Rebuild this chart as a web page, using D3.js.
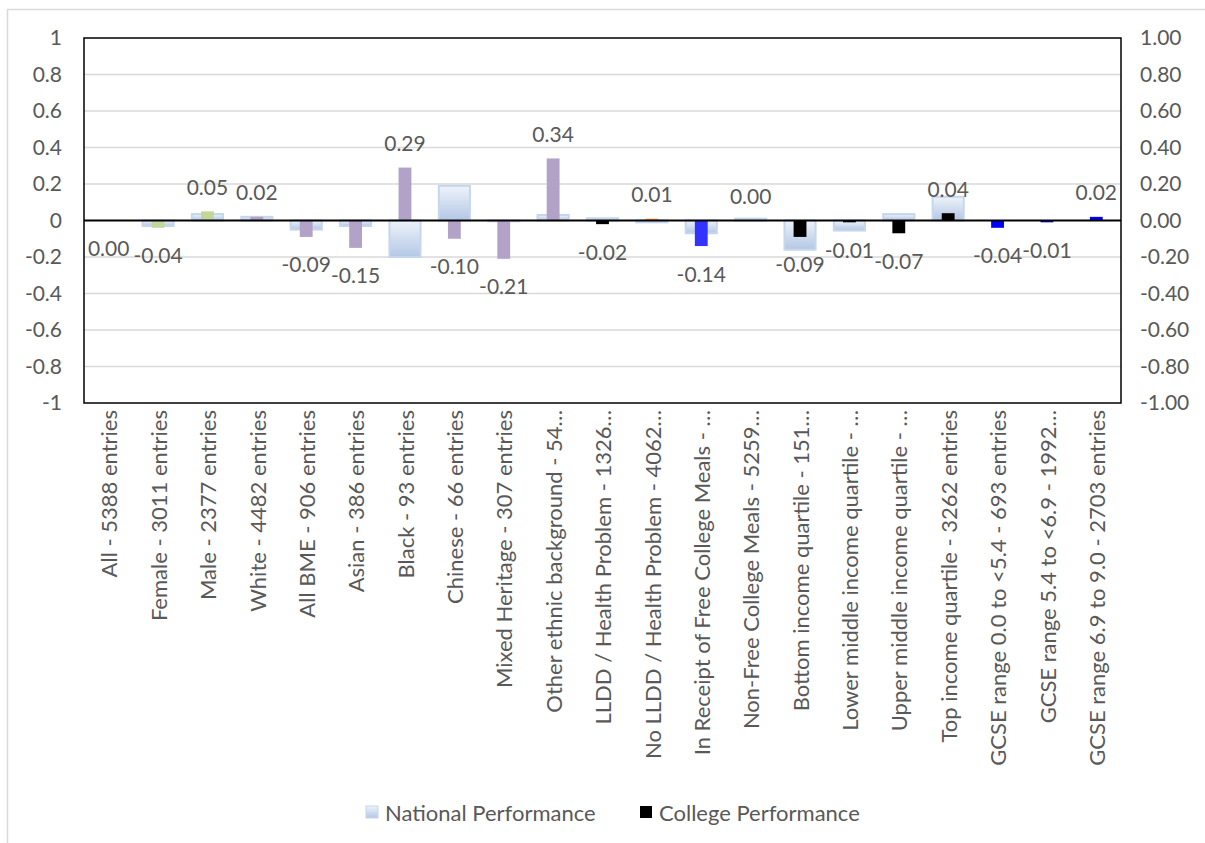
<!DOCTYPE html>
<html>
<head>
<meta charset="utf-8">
<script src="https://cdn.jsdelivr.net/npm/d3@7/dist/d3.min.js"></script>
<style>
  html, body { margin: 0; padding: 0; background: #fff; }
  svg { display: block; }
  text { font-family: Lato, "Open Sans", sans-serif; fill: #595959; }
</style>
</head>
<body>
<svg id="chart" width="1205" height="843"></svg>
<script>
// ---------- DATA ----------
const categories = [
  "All - 5388 entries",
  "Female - 3011 entries",
  "Male - 2377 entries",
  "White - 4482 entries",
  "All BME - 906 entries",
  "Asian - 386 entries",
  "Black - 93 entries",
  "Chinese - 66 entries",
  "Mixed Heritage - 307 entries",
  "Other ethnic background - 54…",
  "LLDD / Health Problem - 1326…",
  "No LLDD / Health Problem - 4062…",
  "In Receipt of Free College Meals - …",
  "Non-Free College Meals - 5259…",
  "Bottom income quartile - 151…",
  "Lower middle income quartile - …",
  "Upper middle income quartile - …",
  "Top income quartile - 3262 entries",
  "GCSE range 0.0 to <5.4 - 693 entries",
  "GCSE range 5.4 to <6.9 - 1992…",
  "GCSE range 6.9 to 9.0 - 2703 entries"
];
const nationalPerformance = [
  0.00, -0.03, 0.035, 0.02, -0.05, -0.03, -0.20, 0.19, -0.004, 0.03,
  0.012, -0.01, -0.07, 0.01, -0.16, -0.055, 0.035, 0.13, 0.00, 0.00, 0.00
];
const collegePerformance = [
  -0.001, -0.04, 0.05, 0.02, -0.09, -0.15, 0.29, -0.10, -0.21, 0.34,
  -0.02, 0.01, -0.14, 0.001, -0.09, -0.01, -0.07, 0.04, -0.04, -0.01, 0.02
];
const leftTicks = [-1, -0.8, -0.6, -0.4, -0.2, 0, 0.2, 0.4, 0.6, 0.8, 1];
const rightTicks = [-1, -0.8, -0.6, -0.4, -0.2, 0, 0.2, 0.4, 0.6, 0.8, 1];
const seriesNames = ["National Performance", "College Performance"];

// ---------- STYLE ----------
const collegeColors = [
  "#c3d69b", "#c3d69b", "#c3d69b",
  "#b3a2c7", "#b3a2c7", "#b3a2c7", "#b3a2c7", "#b3a2c7", "#b3a2c7", "#b3a2c7",
  "#000000", "#f79646", "#3333ff", "#3333ff",
  "#000000", "#000000", "#000000", "#000000",
  "#0000ff", "#0000ff", "#0000ff"
];

const svg = d3.select("#chart");
const W = 1205, H = 843;
const plot = { left: 84, right: 1121, top: 38, bottom: 403 };

// outer chart border
svg.append("rect")
  .attr("x", 7.5).attr("y", 9.5).attr("width", W + 10).attr("height", H + 10)
  .attr("fill", "none").attr("stroke", "#d9d9d9").attr("stroke-width", 1.5);

const defs = svg.append("defs");
const grad = defs.append("linearGradient").attr("id", "natGrad")
  .attr("x1", 0).attr("y1", 0).attr("x2", 0).attr("y2", 1);
grad.append("stop").attr("offset", "0%").attr("stop-color", "#eef3fa");
grad.append("stop").attr("offset", "100%").attr("stop-color", "#b3c7e5");

const x = d3.scaleBand().domain(categories).range([plot.left, plot.right]).paddingInner(0).paddingOuter(0);
const y = d3.scaleLinear().domain([-1, 1]).range([plot.bottom, plot.top]);
const y2 = d3.scaleLinear().domain([-1, 1]).range([plot.bottom, plot.top]);

// gridlines
svg.append("g").selectAll("line").data(leftTicks.filter(t => t !== 0 && t !== 1 && t !== -1))
  .join("line")
  .attr("x1", plot.left).attr("x2", plot.right)
  .attr("y1", d => y(d)).attr("y2", d => y(d))
  .attr("stroke", "#d9d9d9").attr("stroke-width", 1.5);

// national bars (primary)
const natW = x.bandwidth() * 0.63;
svg.append("g").selectAll("rect").data(nationalPerformance)
  .join("rect")
  .attr("x", (d, i) => x(categories[i]) + (x.bandwidth() - natW) / 2)
  .attr("y", d => y(Math.max(0, d)))
  .attr("width", natW)
  .attr("height", d => Math.abs(y(d) - y(0)))
  .attr("fill", "url(#natGrad)")
  .attr("stroke", "#c6d6ec").attr("stroke-width", 2);

// college bars (secondary)
const colW = x.bandwidth() * 0.26;
svg.append("g").selectAll("rect").data(collegePerformance)
  .join("rect")
  .attr("x", (d, i) => x(categories[i]) + (x.bandwidth() - colW) / 2)
  .attr("y", d => y2(Math.max(0, d)))
  .attr("width", colW)
  .attr("height", d => Math.abs(y2(d) - y2(0)))
  .attr("fill", (d, i) => collegeColors[i]);

// zero line
svg.append("line")
  .attr("x1", plot.left).attr("x2", plot.right)
  .attr("y1", y(0)).attr("y2", y(0))
  .attr("stroke", "#000").attr("stroke-width", 2);

// plot border
svg.append("rect")
  .attr("x", plot.left).attr("y", plot.top)
  .attr("width", plot.right - plot.left).attr("height", plot.bottom - plot.top)
  .attr("fill", "none").attr("stroke", "#000").attr("stroke-width", 1.5);

// data labels
const fmt = v => (Math.abs(v) < 0.005 ? "0.00" : v.toFixed(2));
svg.append("g").selectAll("text").data(collegePerformance)
  .join("text")
  .attr("x", (d, i) => x(categories[i]) + x.bandwidth() / 2)
  .attr("y", d => d >= 0 ? y2(d) - 25 : y2(d) + 27)
  .attr("text-anchor", "middle")
  .attr("dominant-baseline", "central")
  .style("font-size", "21px")
  .text(d => fmt(d));

// left axis
const leftAxis = d3.axisLeft(y).tickValues(leftTicks).tickSize(0).tickPadding(22)
  .tickFormat(d => d3.format("")(+d.toFixed(1)).replace("−", "-"));
const gl = svg.append("g").attr("transform", `translate(${plot.left},0)`).call(leftAxis);
gl.select(".domain").remove();
gl.selectAll("text").style("font-size", "21px").attr("fill", "#595959")
  .style("font-family", "Lato, 'Open Sans', sans-serif");

// right axis
const rightAxis = d3.axisRight(y2).tickValues(rightTicks).tickSize(0).tickPadding(19)
  .tickFormat(d => d.toFixed(2));
const gr = svg.append("g").attr("transform", `translate(${plot.right},0)`).call(rightAxis);
gr.select(".domain").remove();
gr.selectAll("text").style("font-size", "21px").attr("fill", "#595959")
  .style("font-family", "Lato, 'Open Sans', sans-serif");

// category labels
const gb = svg.append("g").attr("transform", `translate(0,${plot.bottom})`)
  .call(d3.axisBottom(x).tickSize(0).tickPadding(0));
gb.select(".domain").remove();
gb.selectAll(".tick text")
  .attr("transform", "translate(1,7) rotate(-90)")
  .attr("text-anchor", "end")
  .attr("dy", "0.35em")
  .attr("x", 0).attr("y", 0)
  .attr("fill", "#595959")
  .style("font-size", "22px")
  .style("font-family", "Lato, 'Open Sans', sans-serif");

// legend
const leg = svg.append("g");
leg.append("rect").attr("x", 366).attr("y", 806).attr("width", 12).attr("height", 12)
  .attr("fill", "url(#natGrad)").attr("stroke", "#c6d6ec").attr("stroke-width", 1);
leg.append("text").attr("x", 385).attr("y", 812).attr("dominant-baseline", "central")
  .style("font-size", "22px").text(seriesNames[0]);
leg.append("rect").attr("x", 640).attr("y", 806).attr("width", 12).attr("height", 12)
  .attr("fill", "#000");
leg.append("text").attr("x", 659).attr("y", 812).attr("dominant-baseline", "central")
  .style("font-size", "22px").text(seriesNames[1]);
</script>
</body>
</html>
